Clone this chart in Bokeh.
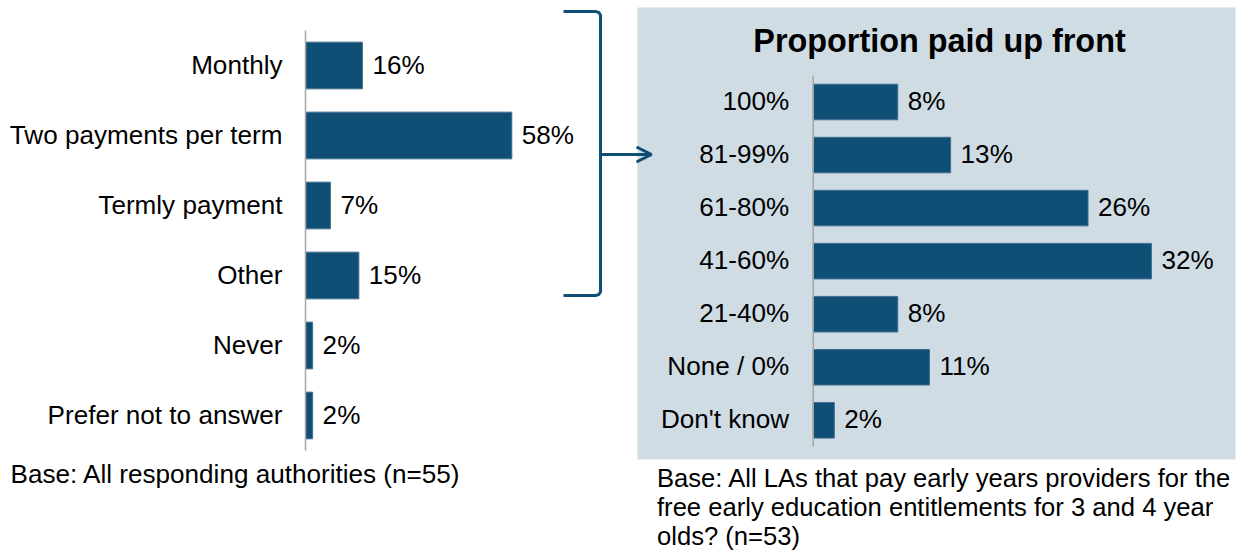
from bokeh.plotting import figure
from bokeh.models import Range1d, Arrow, OpenHead, ColumnDataSource
from bokeh.core.properties import value
from bokeh.embed import file_html
from bokeh.resources import INLINE

# ---------------- data ----------------
left_categories = ["Monthly", "Two payments per term", "Termly payment", "Other",
                   "Never", "Prefer not to answer"]
left_values = [16, 58, 7, 15, 2, 2]

right_categories = ["100%", "81-99%", "61-80%", "41-60%", "21-40%", "None / 0%", "Don't know"]
right_values = [8, 13, 26, 32, 8, 11, 2]

right_title = "Proportion paid up front"
left_base = "Base: All responding authorities (n=55)"
right_base_lines = ["Base: All LAs that pay early years providers for the",
                    "free early education entitlements for 3 and 4 year",
                    "olds? (n=53)"]

# ---------------- style / layout ----------------
BLUE = "#104F75"
EDGE = "#3F6F90"
PANEL = "#CFDCE4"
AXIS = "#A6A6A6"
FONT = value("Liberation Sans")
FS = "26.1px"

W, H = 1239, 556
OX, OY = 0, 0  # picture offset of the canvas


def lin_range(origin_px, px_per_unit, lo_px, hi_px):
    return Range1d(start=(lo_px - origin_px) / px_per_unit, end=(hi_px - origin_px) / px_per_unit)


p = figure(width=W, height=H, output_backend="svg", toolbar_location=None,
           x_range=Range1d(OX, OX + W), y_range=Range1d(OY + H, OY),
           x_axis_location=None, y_axis_location=None, min_border=0,
           outline_line_color=None, background_fill_color="white",
           border_fill_color="white")
p.xgrid.visible = False
p.ygrid.visible = False

# scales of the two bar charts (picture pixels -> data)
p.extra_x_ranges = {
    "lx": lin_range(305.0, 3.557, OX, OX + W),
    "rx": lin_range(812.7, 10.57, OX, OX + W),
}
p.extra_y_ranges = {
    "ly": lin_range(65.0, 70.0, OY + H, OY),
    "ry": lin_range(101.5, 53.05, OY + H, OY),
}

# grey panel behind right chart
p.quad(left=637, right=1235, top=7, bottom=459, fill_color=PANEL, line_color=None)

# ---------------- left chart ----------------
src_l = ColumnDataSource(dict(
    idx=list(range(len(left_categories))),
    cat=left_categories,
    val=left_values,
    lab=[f"{v}%" for v in left_values],
))
p.hbar(y="idx", left=0, right="val", height=0.667, source=src_l,
       x_range_name="lx", y_range_name="ly",
       fill_color=BLUE, line_color=EDGE, line_width=1)
p.segment(x0=[0], y0=[-0.5], x1=[0], y1=[len(left_categories) - 0.5],
          x_range_name="lx", y_range_name="ly", line_color=AXIS, line_width=1.5)
p.text(x=0, y="idx", text="cat", source=src_l, x_range_name="lx", y_range_name="ly",
       x_offset=-23, y_offset=-1, text_align="right", text_baseline="middle",
       text_font=FONT, text_font_size=FS, text_color="black")
p.text(x="val", y="idx", text="lab", source=src_l, x_range_name="lx", y_range_name="ly",
       x_offset=10, y_offset=-1, text_align="left", text_baseline="middle",
       text_font=FONT, text_font_size=FS, text_color="black")

# ---------------- right chart ----------------
src_r = ColumnDataSource(dict(
    idx=list(range(len(right_categories))),
    cat=right_categories,
    val=right_values,
    lab=[f"{v}%" for v in right_values],
))
p.hbar(y="idx", left=0, right="val", height=0.67, source=src_r,
       x_range_name="rx", y_range_name="ry",
       fill_color=BLUE, line_color=EDGE, line_width=1)
p.segment(x0=[0], y0=[-0.5], x1=[0], y1=[len(right_categories) - 0.5],
          x_range_name="rx", y_range_name="ry", line_color=AXIS, line_width=1.5)
p.text(x=0, y="idx", text="cat", source=src_r, x_range_name="rx", y_range_name="ry",
       x_offset=-24, y_offset=-1, text_align="right", text_baseline="middle",
       text_font=FONT, text_font_size=FS, text_color="black")
p.text(x="val", y="idx", text="lab", source=src_r, x_range_name="rx", y_range_name="ry",
       x_offset=10, y_offset=-1, text_align="left", text_baseline="middle",
       text_font=FONT, text_font_size=FS, text_color="black")

# title of right chart
p.text(x=[939], y=[40], text=[right_title], text_align="center", text_baseline="middle",
       text_font=FONT, text_font_size="32.4px", text_font_style="bold", text_color="black")

# ---------------- bracket and arrow ----------------
p.line(x=[563, 595, 598.2, 600, 600, 598.2, 595, 563],
       y=[11, 11, 11.9, 14.5, 291.5, 294.1, 295, 295],
       line_color=BLUE, line_width=3)
p.add_layout(Arrow(x_start=600, y_start=154, x_end=651, y_end=154,
                   line_color=BLUE, line_width=3,
                   end=OpenHead(size=15, line_color=BLUE, line_width=3)))

# ---------------- base notes ----------------
p.text(x=[10], y=[473], text=[left_base], text_align="left", text_baseline="middle",
       text_font=FONT, text_font_size=FS, text_color="black")
p.text(x=[656.5] * len(right_base_lines), y=[477, 506, 535][:len(right_base_lines)],
       text=right_base_lines, text_align="left", text_baseline="middle",
       text_font=FONT, text_font_size="25.6px", text_color="black")

open("out.html", "w").write(file_html(p, INLINE))
